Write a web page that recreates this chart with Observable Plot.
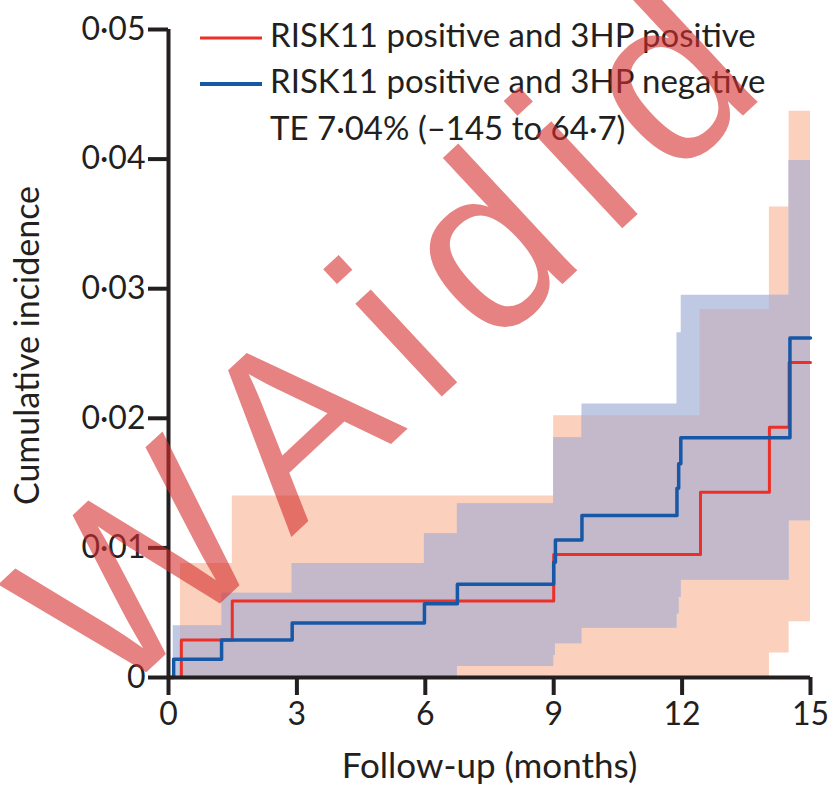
<!DOCTYPE html>
<html>
<head>
<meta charset="utf-8">
<script src="https://cdn.jsdelivr.net/npm/d3@7"></script>
<script src="https://cdn.jsdelivr.net/npm/@observablehq/plot@0.6"></script>
<style>
  html, body { margin: 0; padding: 0; background: #fff; }
  #chart { width: 828px; height: 800px; }
</style>
</head>
<body>
<div id="chart"></div>
<script>
// ---- Data ----
const xTicks = [0, 3, 6, 9, 12, 15];
const yTicks = [0, 0.01, 0.02, 0.03, 0.04, 0.05];

const seriesNames = ["RISK11 positive and 3HP positive", "RISK11 positive and 3HP negative"];
const teLabel = "TE 7·04% (–145 to 64·7)";

// Cumulative incidence step curves
const posTime = [0, 0.30, 1.49, 9.00, 12.43, 14.04, 14.50, 15];
const posCI   = [0, 0.0029, 0.0059, 0.0095, 0.0143, 0.0193, 0.0243, 0.0243];

const negTime = [0, 0.12, 1.24, 2.89, 5.98, 6.75, 9.00, 9.04, 9.66, 11.88, 11.92, 11.97, 14.52, 15];
const negCI   = [0, 0.0014, 0.0029, 0.0042, 0.0057, 0.0072, 0.0089, 0.0106, 0.0125, 0.0146, 0.0165, 0.0185, 0.0262, 0.0262];

// Confidence bands
const posBandTime  = [0.28, 1.49, 9.00, 12.42, 14.04, 14.50, 15];
const posBandLower = [0, 0, 0, 0, 0.0019, 0.0043, 0.0043];
const posBandUpper = [0.0088, 0.0140, 0.0202, 0.0284, 0.0363, 0.0437, 0.0437];

const negBandTime  = [0.11, 1.25, 2.89, 5.98, 6.75, 9.00, 9.04, 9.66, 11.88, 11.93, 11.98, 14.50, 15];
const negBandLower = [0, 0, 0, 0, 0.00085, 0.0017, 0.0026, 0.0038, 0.0049, 0.0062, 0.0075, 0.0121, 0.0121];
const negBandUpper = [0.0040, 0.0065, 0.0088, 0.0111, 0.0134, 0.0185, 0.0185, 0.0211, 0.0266, 0.0266, 0.0295, 0.0399, 0.0399];

const watermark = "WAidid";

// ---- Colours ----
const red = "#ec3028", blue = "#1658a6";
const peach = "#fbd0bc", lightBlue = "#bfc9e4", lavender = "#c3b9cb";
const ink = "#231f20";

// ---- Tables built from the arrays ----
const line = (t, v) => t.map((d, i) => ({t: d, v: v[i]}));
const band = (t, lo, hi) => t.map((d, i) => ({t: d, lo: lo[i], hi: hi[i]}));
const posLine = line(posTime, posCI);
const negLine = line(negTime, negCI);
const posBand = band(posBandTime, posBandLower, posBandUpper);
const negBand = band(negBandTime, negBandLower, negBandUpper);

function stepAt(b, t) {
  let r = null;
  for (const d of b) if (d.t <= t) r = d;
  return r;
}
const start = Math.max(posBandTime[0], negBandTime[0]);
const allT = Array.from(new Set([...posBandTime, ...negBandTime])).filter(t => t >= start).sort((a, b) => a - b);
const overlap = allT.map(t => {
  const a = stepAt(posBand, t), b = stepAt(negBand, t);
  const lo = Math.max(a.lo, b.lo), hi = Math.min(a.hi, b.hi);
  return {t, lo, hi: Math.max(lo, hi)};
});

const fmtY = d => d === 0 ? "0" : d3.format(".2f")(d).replace(".", "·");
const font = "Lato, 'Open Sans', sans-serif";

const chart = Plot.plot({
  width: 828,
  height: 800,
  marginLeft: 168,
  marginRight: 18,
  marginTop: 29,
  marginBottom: 123,
  style: {fontFamily: font, background: "#fff", color: ink, overflow: "visible"},
  x: {domain: [0, 15]},
  y: {domain: [0, 0.05]},
  marks: [
    Plot.areaY(posBand, {x: "t", y1: "lo", y2: "hi", curve: "step-after", fill: peach}),
    Plot.areaY(negBand, {x: "t", y1: "lo", y2: "hi", curve: "step-after", fill: lightBlue}),
    Plot.areaY(overlap, {x: "t", y1: "lo", y2: "hi", curve: "step-after", fill: lavender}),
    Plot.line(posLine, {x: "t", y: "v", curve: "step-after", stroke: red, strokeWidth: 3}),
    Plot.line(negLine, {x: "t", y: "v", curve: "step-after", stroke: blue, strokeWidth: 3.5}),
    Plot.axisX({ticks: xTicks, tickSize: 18, tickPadding: 7, fontSize: 32, strokeWidth: 4, stroke: ink, label: null, tickFormat: d => String(d)}),
    Plot.axisY({ticks: yTicks, tickSize: 20, tickPadding: 3, fontSize: 32, strokeWidth: 4, stroke: ink, label: null, tickFormat: fmtY}),
    Plot.ruleX([0], {y1: 0, y2: 0.05, stroke: ink, strokeWidth: 4}),
    Plot.ruleY([0], {x1: 0, x2: 15, stroke: ink, strokeWidth: 4}),
    Plot.text(["Cumulative incidence"], {frameAnchor: "left", textAnchor: "middle", rotate: -90, dx: -140, dy: -8, fontSize: 34, fill: ink}),
    Plot.text(["Follow-up (months)"], {frameAnchor: "bottom", dy: 100, fontSize: 35, fill: ink})
  ]
});

document.getElementById("chart").appendChild(chart);

// Legend + watermark overlay
const svg = d3.select(chart);
const leg = svg.append("g").attr("font-family", font).attr("font-size", 33).attr("fill", ink).attr("text-anchor", "start");
leg.append("line").attr("x1", 200).attr("x2", 262).attr("y1", 38).attr("y2", 38).attr("stroke", red).attr("stroke-width", 3);
leg.append("line").attr("x1", 200).attr("x2", 262).attr("y1", 84).attr("y2", 84).attr("stroke", blue).attr("stroke-width", 4);
leg.append("text").attr("x", 270).attr("y", 47).text(seriesNames[0]);
leg.append("text").attr("x", 270).attr("y", 93).text(seriesNames[1]);
leg.append("text").attr("x", 270).attr("y", 140).text(teLabel);

svg.append("text")
  .attr("transform", "translate(110,706) rotate(-43)")
  .attr("text-anchor", "start")
  .attr("font-family", "'Liberation Sans', Arial, sans-serif")
  .attr("font-size", 240)
  .attr("letter-spacing", 30)
  .attr("fill", "rgb(214,46,46)")
  .attr("fill-opacity", 0.6)
  .text(watermark);
</script>
</body>
</html>
